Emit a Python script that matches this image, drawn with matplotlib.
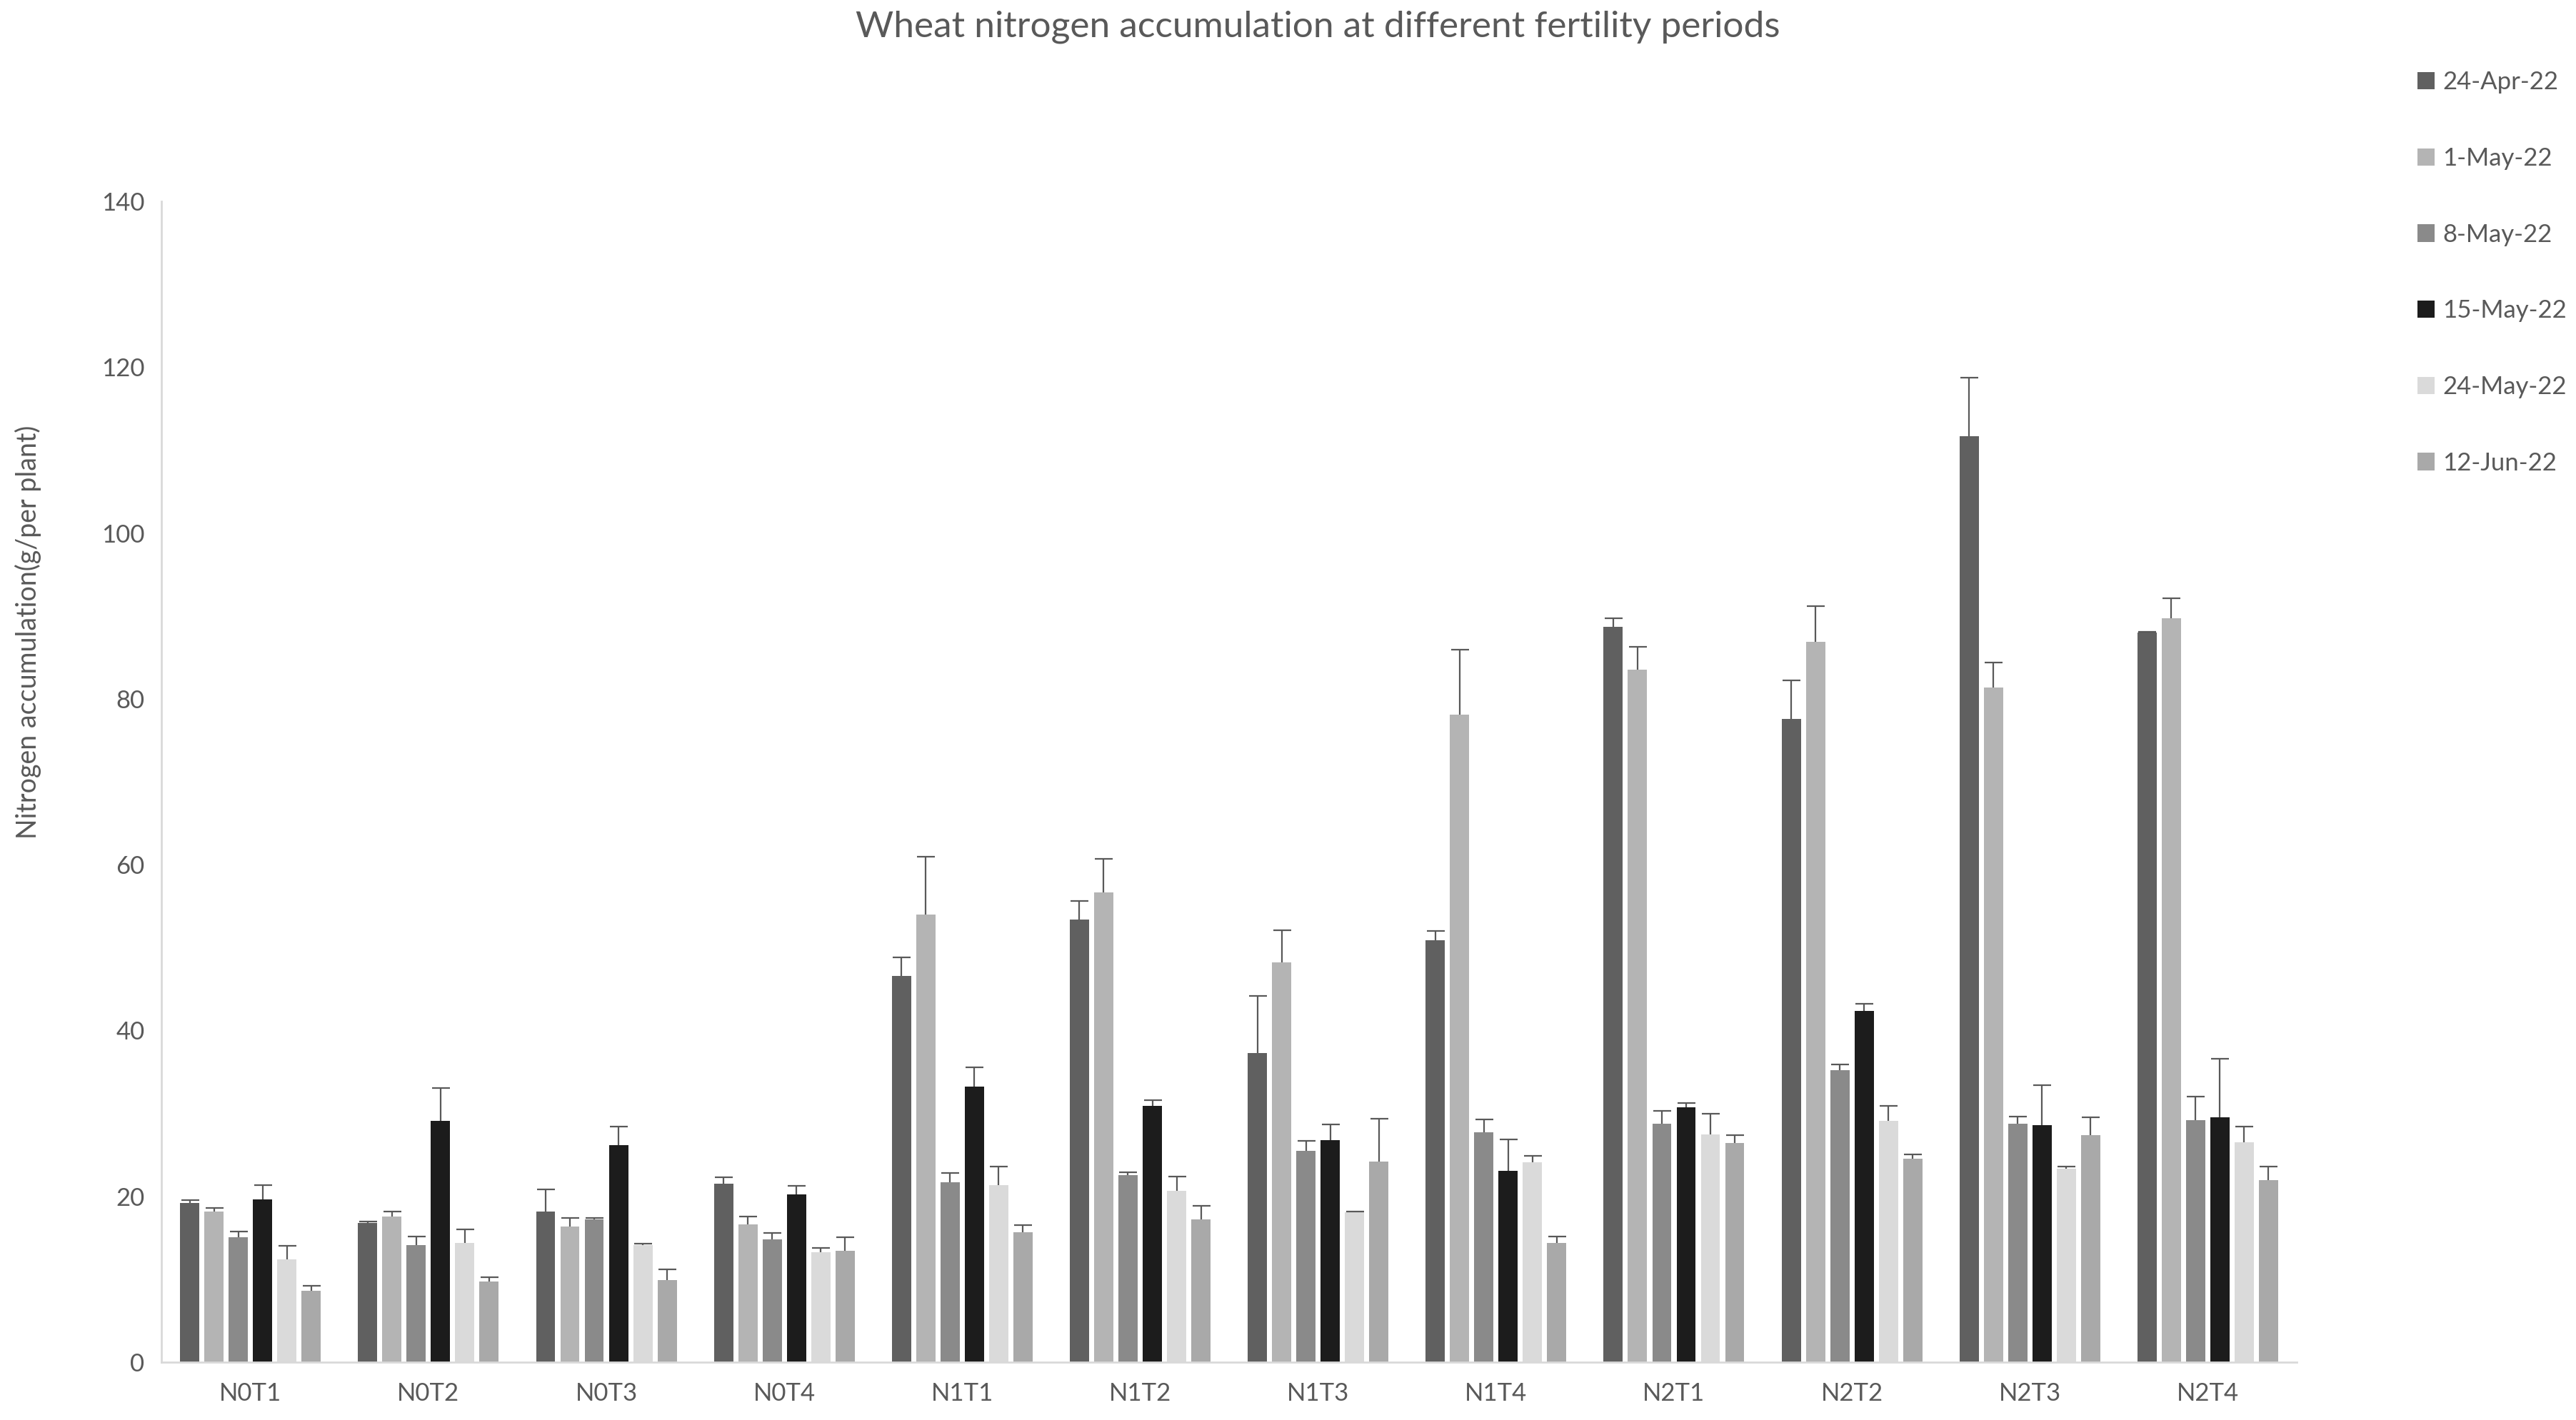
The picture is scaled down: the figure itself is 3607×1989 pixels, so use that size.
import numpy as np
import matplotlib
matplotlib.use("Agg")
import matplotlib.pyplot as plt

plt.rcParams['font.family'] = ['Lato', 'DejaVu Sans']

groups = ["N0T1", "N0T2", "N0T3", "N0T4", "N1T1", "N1T2",
          "N1T3", "N1T4", "N2T1", "N2T2", "N2T3", "N2T4"]
dates = ["24-Apr-22", "1-May-22", "8-May-22", "15-May-22", "24-May-22", "12-Jun-22"]
colors = ["#606060", "#b4b4b4", "#8a8a8a", "#1c1c1c", "#dadada", "#a9a9a9"]

# mean values, one list per sampling date (same order as groups)
apr24 = [19.2, 16.8, 18.2, 21.5, 46.6, 53.4, 37.3, 50.9, 88.7, 77.6, 111.7, 88.0]
may1 = [18.2, 17.6, 16.4, 16.6, 54.0, 56.7, 48.2, 78.1, 83.5, 86.9, 81.4, 89.7]
may8 = [15.1, 14.1, 17.2, 14.8, 21.7, 22.6, 25.5, 27.7, 28.8, 35.2, 28.8, 29.2]
may15 = [19.6, 29.1, 26.2, 20.2, 33.2, 30.9, 26.8, 23.1, 30.7, 42.4, 28.6, 29.5]
may24 = [12.4, 14.4, 14.1, 13.3, 21.4, 20.7, 18.1, 24.1, 27.5, 29.1, 23.3, 26.5]
jun12 = [8.6, 9.7, 9.9, 13.4, 15.7, 17.2, 24.2, 14.4, 26.4, 24.5, 27.4, 22.0]

# upper error bars
apr24_err = [0.35, 0.15, 2.6, 0.8, 2.2, 2.2, 6.9, 1.1, 1.0, 4.6, 7.0, 0.1]
may1_err = [0.4, 0.6, 1.0, 1.0, 7.0, 4.0, 3.9, 7.8, 2.8, 4.3, 3.0, 2.4]
may8_err = [0.65, 1.1, 0.2, 0.8, 1.1, 0.3, 1.2, 1.6, 1.5, 0.7, 0.85, 2.8]
may15_err = [1.8, 4.0, 2.2, 1.1, 2.4, 0.7, 1.9, 3.8, 0.6, 0.8, 4.8, 7.1]
may24_err = [1.6, 1.6, 0.2, 0.5, 2.2, 1.7, 0.1, 0.8, 2.5, 1.8, 0.3, 1.9]
jun12_err = [0.6, 0.55, 1.3, 1.7, 0.8, 1.7, 5.2, 0.8, 1.0, 0.6, 2.1, 1.6]

series = [apr24, may1, may8, may15, may24, jun12]
errors = [apr24_err, may1_err, may8_err, may15_err, may24_err, jun12_err]

text_col = "#595959"
axis_col = "#d9d9d9"

fig = plt.figure(figsize=(36.07, 19.89), dpi=100)
ax = fig.add_axes([0.0627, 0.0407, 0.8289, 0.8175])

x = np.arange(len(groups))
slot = 0.1365
width = 0.108
handles = []
for i, (vals, errs, col, lab) in enumerate(zip(series, errors, colors, dates)):
    xi = x + (i - 2.5) * slot
    b = ax.bar(xi, vals, width, color=col, label=lab, zorder=2)
    handles.append(b)
    eb = ax.errorbar(xi, vals, yerr=[np.zeros(len(vals)), errs], fmt="none",
                     ecolor="#595959", elinewidth=1.6, capsize=9, capthick=1.6, zorder=3)
    # keep only the upper cap
    for cap in eb[1]:
        if np.allclose(cap.get_ydata(), vals):
            cap.set_visible(False)

ax.set_xlim(-0.5, len(groups) - 0.5)
ax.set_ylim(0, 140)
ax.set_yticks(np.arange(0, 141, 20))
ax.set_xticks(x)
ax.set_xticklabels(groups)
ax.tick_params(axis="both", length=0, labelsize=25, labelcolor=text_col)
ax.tick_params(axis="y", pad=17)
ax.tick_params(axis="x", pad=20)

for s in ["top", "right"]:
    ax.spines[s].set_visible(False)
for s in ["left", "bottom"]:
    ax.spines[s].set_color(axis_col)
    ax.spines[s].set_linewidth(2)

fig.text(0.5115, 0.981, "Wheat nitrogen accumulation at different fertility periods",
         ha="center", va="center", fontsize=37, color=text_col)
fig.text(0.0108, 0.555, "Nitrogen accumulation(g/per plant)", rotation=90,
         ha="center", va="center", fontsize=27, color=text_col)

leg = fig.legend(handles=handles, loc="upper left", bbox_to_anchor=(0.9385, 0.950),
                 frameon=False, fontsize=25, handlelength=0.7, handleheight=0.7,
                 handletextpad=0.3, labelspacing=2.15, borderpad=0, borderaxespad=0)
for t in leg.get_texts():
    t.set_color(text_col)

fig.savefig("out.png", dpi=100, facecolor="white")
